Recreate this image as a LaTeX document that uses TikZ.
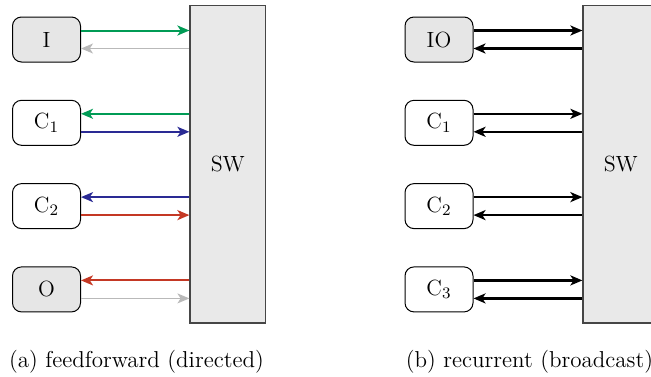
\documentclass[tikz,border=0pt]{standalone}
\usetikzlibrary{arrows.meta}
\definecolor{ffgreen}{RGB}{0,155,85}
\definecolor{ffblue}{RGB}{42,42,148}
\definecolor{ffred}{RGB}{196,56,36}
\definecolor{ffgray}{RGB}{185,185,185}
\definecolor{boxfill}{RGB}{230,230,230}
\definecolor{swfill}{RGB}{233,233,233}
\definecolor{swline}{RGB}{70,70,70}
\tikzset{
  >={Stealth[length=6pt,width=5pt,inset=1.6pt]},
  unit/.style={draw=black, rounded corners=4.5pt, minimum width=34pt,
    minimum height=22.5pt, inner sep=0pt, line width=0.5pt},
  ionode/.style={unit, fill=boxfill},
  switchbox/.style={draw=swline, fill=swfill, minimum width=37.8pt,
    minimum height=158.6pt, inner sep=0pt, line width=0.6pt},
  link/.style={line width=1pt},
  weak/.style={line width=0.6pt},
  bcast/.style={line width=1.2pt},
  caption/.style={inner sep=0pt}
}
\begin{document}
\begin{tikzpicture}[x=0.5pt, y=-0.5pt, font=\fontsize{11}{13}\selectfont]
\useasboundingbox (0,0) rectangle (651,376);
\clip (0,0) rectangle (651,376);

% ---- (a) feedforward ----
\node[switchbox] (SWa) at (227.8,164.4) {SW};
\node[ionode] (I)  at (46.5,39.5)  {I};
\node[unit]   (Ca) at (46.5,122.8) {C$_1$};
\node[unit]   (Cb) at (46.5,206.1) {C$_2$};
\node[ionode] (O)  at (46.5,289.4) {O};

\draw[link, ffgreen, ->] ([yshift=4.5pt]I.east) coordinate (i1) -- (i1 -| SWa.west);
\draw[weak, ffgray, <-]  ([yshift=-4.5pt]I.east) coordinate (i2) -- (i2 -| SWa.west);

\draw[link, ffgreen, <-] ([yshift=4.5pt]Ca.east) coordinate (a1) -- (a1 -| SWa.west);
\draw[link, ffblue, ->]  ([yshift=-4.5pt]Ca.east) coordinate (a2) -- (a2 -| SWa.west);

\draw[link, ffblue, <-]  ([yshift=4.5pt]Cb.east) coordinate (b1) -- (b1 -| SWa.west);
\draw[link, ffred, ->]   ([yshift=-4.5pt]Cb.east) coordinate (b2) -- (b2 -| SWa.west);

\draw[link, ffred, <-]   ([yshift=4.5pt]O.east) coordinate (o1) -- (o1 -| SWa.west);
\draw[weak, ffgray, ->]  ([yshift=-4.5pt]O.east) coordinate (o2) -- (o2 -| SWa.west);

\node[caption, font=\fontsize{11.5}{14}\selectfont] (capa) at (136.5,362) {(a) feedforward (directed)};

% ---- (b) recurrent ----
\node[switchbox] (SWb) at (620.8,164.4) {SW};
\node[ionode] (IO) at (439,39.5)  {IO};
\node[unit]   (Da) at (439,122.8) {C$_1$};
\node[unit]   (Db) at (439,206.1) {C$_2$};
\node[unit]   (Dc) at (439,289.4) {C$_3$};

\foreach \n [count=\k] in {IO,Da,Db,Dc}{
  \draw[bcast, ->] ([yshift=4.5pt]\n.east) coordinate (u\k) -- (u\k -| SWb.west);
  \draw[bcast, <-] ([yshift=-4.5pt]\n.east) coordinate (d\k) -- (d\k -| SWb.west);
}

\node[caption, font=\fontsize{11.5}{14}\selectfont] (capb) at (529.5,362) {(b) recurrent (broadcast)};
\end{tikzpicture}
\end{document}
